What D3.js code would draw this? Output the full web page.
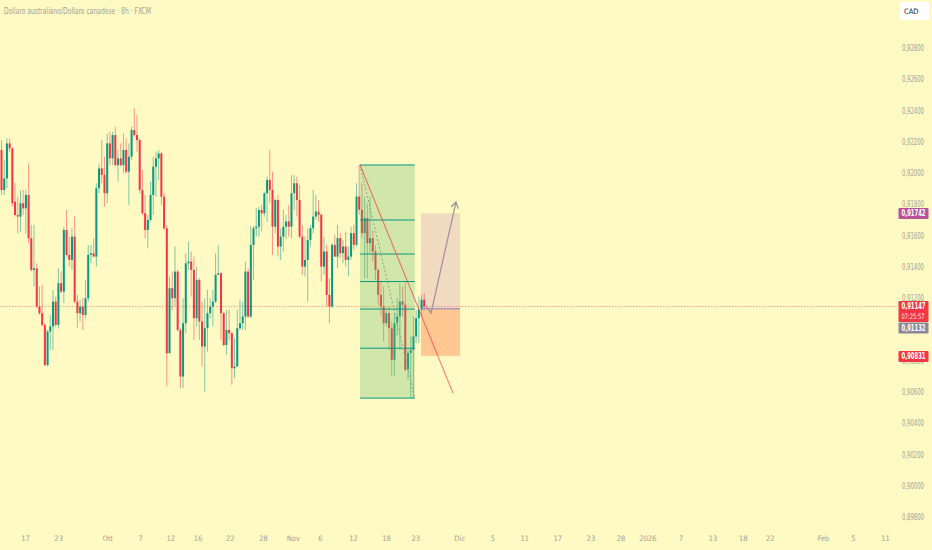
<!DOCTYPE html>
<html>
<head>
<meta charset="utf-8">
<script src="https://cdn.jsdelivr.net/npm/d3@7"></script>
<style>
  html, body { margin: 0; padding: 0; background: #fff9c4; }
  svg { display: block; }
  text { font-family: "Liberation Sans Narrow", "DejaVu Sans Condensed", "Liberation Sans", sans-serif; }
</style>
</head>
<body>
<svg id="chart"></svg>
<script>
const WIDTH = 932;
const HEIGHT = 550;

const TITLE = 'Dollaro australiano/Dollaro canadese · 8h · FXCM';

// 8h candles, [open, high, low, close]
const candles = [
  [0.92148,0.92211,0.91860,0.91892],[0.91892,0.92084,0.91860,0.91966],[0.91966,0.92222,0.91903,0.92190],
  [0.92190,0.92222,0.92137,0.92158],[0.92158,0.92165,0.91785,0.91807],[0.91817,0.91935,0.91722,0.91732],
  [0.91732,0.91849,0.91615,0.91722],[0.91722,0.91892,0.91625,0.91807],[0.91807,0.91892,0.91732,0.91775],
  [0.91775,0.91892,0.91615,0.91860],[0.91860,0.92062,0.91551,0.91583],[0.91583,0.91668,0.91370,0.91381],
  [0.91381,0.91668,0.91274,0.91391],[0.91391,0.91423,0.91136,0.91146],[0.91146,0.91274,0.91093,0.91104],
  [0.91104,0.91285,0.91019,0.91029],[0.91029,0.91040,0.90763,0.90773],[0.90773,0.90997,0.90763,0.90987],
  [0.90987,0.91093,0.90870,0.91019],[0.91019,0.91253,0.90870,0.91178],[0.91178,0.91210,0.91019,0.91029],
  [0.91029,0.91391,0.91008,0.91296],[0.91296,0.91370,0.91232,0.91242],[0.91242,0.91657,0.91168,0.91636],
  [0.91636,0.91764,0.91466,0.91477],[0.91477,0.91594,0.91402,0.91445],[0.91445,0.91647,0.91381,0.91594],
  [0.91594,0.91722,0.91168,0.91178],[0.91178,0.91221,0.91008,0.91104],[0.91104,0.91189,0.91051,0.91146],
  [0.91146,0.91200,0.90997,0.91093],[0.91093,0.91317,0.91072,0.91200],[0.91200,0.91540,0.91178,0.91477],
  [0.91477,0.91540,0.91423,0.91487],[0.91487,0.91583,0.91466,0.91466],[0.91466,0.91935,0.91402,0.91903],
  [0.91903,0.92062,0.91871,0.92030],[0.92030,0.92211,0.91935,0.91988],[0.91988,0.92105,0.91785,0.91871],
  [0.91871,0.92254,0.91807,0.92190],[0.92190,0.92264,0.92051,0.92094],[0.92094,0.92264,0.92051,0.92243],
  [0.92243,0.92296,0.92041,0.92051],[0.92051,0.92148,0.91946,0.92094],[0.92094,0.92190,0.92041,0.92051],
  [0.92051,0.92254,0.91998,0.92148],[0.92148,0.92222,0.91998,0.92009],[0.92009,0.92190,0.91796,0.92105],
  [0.92105,0.92296,0.92084,0.92275],[0.92275,0.92414,0.92232,0.92243],[0.92243,0.92371,0.92137,0.92211],
  [0.92211,0.92222,0.91871,0.91892],[0.91892,0.92020,0.91732,0.91743],[0.91743,0.91860,0.91583,0.91636],
  [0.91636,0.91732,0.91519,0.91700],[0.91700,0.91945,0.91690,0.91860],[0.91860,0.92105,0.91732,0.92041],
  [0.92041,0.92137,0.91849,0.92094],[0.92094,0.92148,0.91956,0.92126],[0.92126,0.92137,0.91796,0.91849],
  [0.91849,0.91870,0.91636,0.91647],[0.91647,0.91668,0.90635,0.90848],[0.90848,0.91338,0.90848,0.91264],
  [0.91264,0.91370,0.91125,0.91200],[0.91200,0.91530,0.91146,0.91370],[0.91370,0.91381,0.90987,0.90997],
  [0.90997,0.91008,0.90625,0.90699],[0.90699,0.91200,0.90625,0.91040],[0.91040,0.91487,0.90976,0.91423],
  [0.91423,0.91562,0.91381,0.91434],[0.91434,0.91498,0.91210,0.91381],[0.91381,0.91466,0.90933,0.91072],
  [0.91072,0.91402,0.91019,0.91317],[0.91317,0.91327,0.90933,0.91051],[0.91051,0.91178,0.90763,0.90891],
  [0.90891,0.91200,0.90603,0.91008],[0.91008,0.91253,0.90859,0.91104],[0.91104,0.91200,0.91072,0.91146],
  [0.91146,0.91253,0.91019,0.91178],[0.91178,0.91487,0.91168,0.91349],[0.91349,0.91540,0.91349,0.91359],
  [0.91359,0.91370,0.90933,0.91104],[0.91104,0.91114,0.90891,0.90901],[0.90901,0.91125,0.90838,0.90997],
  [0.90997,0.91125,0.90933,0.90976],[0.90976,0.90987,0.90646,0.90752],[0.90752,0.90944,0.90688,0.90763],
  [0.90763,0.91125,0.90763,0.91008],[0.91008,0.91189,0.90997,0.91040],[0.91040,0.91178,0.90997,0.91083],
  [0.91083,0.91434,0.90997,0.91370],[0.91370,0.91391,0.91072,0.91083],[0.91083,0.91660,0.91072,0.91540],
  [0.91540,0.91660,0.91317,0.91647],[0.91647,0.91775,0.91594,0.91657],[0.91657,0.91785,0.91594,0.91764],
  [0.91764,0.91796,0.91626,0.91743],[0.91743,0.91881,0.91722,0.91871],[0.91871,0.91977,0.91690,0.91956],
  [0.91956,0.92148,0.91807,0.91892],[0.91892,0.92009,0.91477,0.91657],[0.91657,0.91838,0.91615,0.91828],
  [0.91828,0.91860,0.91466,0.91530],[0.91530,0.91647,0.91445,0.91594],[0.91594,0.91764,0.91498,0.91657],
  [0.91657,0.91732,0.91577,0.91690],[0.91690,0.91796,0.91594,0.91657],[0.91657,0.91988,0.91583,0.91871],
  [0.91871,0.91988,0.91764,0.91935],[0.91935,0.91977,0.91722,0.91828],[0.91828,0.91924,0.91583,0.91594],
  [0.91594,0.91668,0.91349,0.91402],[0.91402,0.91594,0.91338,0.91445],[0.91445,0.91647,0.91178,0.91572],
  [0.91572,0.91668,0.91530,0.91647],[0.91647,0.91892,0.91615,0.91722],[0.91722,0.91860,0.91700,0.91754],
  [0.91754,0.91828,0.91690,0.91733],[0.91733,0.91743,0.91307,0.91402],[0.91402,0.91594,0.91349,0.91498],
  [0.91498,0.91541,0.91147,0.91221],[0.91221,0.91328,0.91040,0.91147],[0.91147,0.91552,0.91136,0.91541],
  [0.91541,0.91605,0.91466,0.91466],[0.91466,0.91669,0.91392,0.91584],[0.91584,0.91616,0.91456,0.91488],
  [0.91488,0.91573,0.91424,0.91530],[0.91530,0.91626,0.91402,0.91445],[0.91445,0.91530,0.91339,0.91466],
  [0.91466,0.91658,0.91445,0.91616],[0.91616,0.91669,0.91509,0.91541],[0.91541,0.91935,0.91530,0.91850],
  [0.91850,0.92052,0.91733,0.91765],[0.91765,0.91935,0.91584,0.91616],[0.91616,0.91850,0.91328,0.91712],
  [0.91712,0.91807,0.91328,0.91552],[0.91552,0.91850,0.91488,0.91584],[0.91584,0.91637,0.91434,0.91498],
  [0.91498,0.91541,0.91317,0.91381],[0.91381,0.91390,0.91158,0.91221],[0.91221,0.91307,0.91083,0.91147],
  [0.91147,0.91275,0.90923,0.91040],[0.91040,0.91126,0.91019,0.91104],[0.91104,0.91147,0.90870,0.91008],
  [0.91008,0.91051,0.90700,0.90806],[0.90806,0.91104,0.90700,0.91040],[0.91040,0.91200,0.90955,0.91083],
  [0.91083,0.91296,0.90870,0.91179],[0.91179,0.91275,0.91083,0.91158],[0.91158,0.91307,0.90732,0.90742],
  [0.90742,0.90870,0.90678,0.90850],[0.90850,0.90955,0.90561,0.90870],[0.90870,0.91083,0.90561,0.90955],
  [0.90955,0.91126,0.90913,0.91072],[0.91072,0.91211,0.90913,0.91126],[0.91126,0.91222,0.91083,0.91190],
  [0.91190,0.91232,0.91126,0.91147]
];

// time axis: label text and the bar index it sits on (future bars past the last candle)
const timeLabels = ['17','23','Ott','7','12','16','22','28','Nov','6','12','18','23','Dic',
  '5','11','17','23','28','2026','7','13','18','22','Feb','5','11'];
const timeIndex = [8.7,20.9,39,51.2,62.3,72.3,84.2,96.4,107.5,117.5,129.7,141.9,152.7,168.9,
  181.1,192.9,205.1,217.3,228.4,238.4,250.6,262.4,273.5,283.5,303.1,314.2,326];

const priceTicks = d3.range(0.898, 0.9281, 0.002);
const lastPrice = 0.91147;
const countdown = '07:25:57';

// fib retracement drawn from the swing high to the swing low
const fibStart = [132.3, 0.92052];
const fibEnd = [152.5, 0.90561];
const fibLevels = [0, 0.236, 0.382, 0.5, 0.618, 0.786, 1];

// down trend line
const trendLine = [[132.3, 0.92052], [166.6, 0.90593]];

// long position tool
const posStart = 154.8, posEnd = 169.2;
const posEntry = 0.91132, posTarget = 0.91742, posStop = 0.90831;

// projected path with arrow head
const projection = [[156.7, 0.91150], [158.5, 0.91105], [167.7, 0.91815]];

const UP = '#089981';
const DOWN = '#f23645';
const AXIS_TEXT = '#a3a294';

const fmt = v => v.toFixed(5).replace('.', ',');

function draw() {
    let svg = d3.select('#chart')
        .attr('width', WIDTH)
        .attr('height', HEIGHT);

    svg.append('rect')
        .attr('width', WIDTH)
        .attr('height', HEIGHT)
        .attr('fill', '#fff9c4');

    const step = 2.71;
    let x = d3.scaleLinear()
        .domain([0, 1])
        .range([1.5, 1.5 + step]);
    let y = d3.scaleLinear()
        .domain([0.898, 0.928])
        .range([517.1, 48]);

    let plot = svg.append('g').attr('class', 'plot');
    svg.append('clipPath').attr('id', 'plot-clip')
        .append('rect').attr('width', 898).attr('height', 528);
    plot.attr('clip-path', 'url(#plot-clip)');

    // last price dotted line
    plot.append('line')
        .attr('x1', 0).attr('x2', 898)
        .attr('y1', y(lastPrice)).attr('y2', y(lastPrice))
        .attr('stroke', DOWN)
        .attr('stroke-opacity', 0.55)
        .attr('stroke-width', 0.8)
        .attr('stroke-dasharray', '1.5,1.5');

    // candles
    let bar = plot.selectAll('.candle')
        .data(candles)
        .enter().append('g')
        .attr('class', 'candle');

    bar.append('line')
        .attr('x1', (d, i) => x(i)).attr('x2', (d, i) => x(i))
        .attr('y1', d => y(d[1])).attr('y2', d => y(d[2]))
        .attr('stroke', d => d[3] >= d[0] ? UP : DOWN)
        .attr('stroke-opacity', 0.5)
        .attr('stroke-width', 1);

    bar.append('rect')
        .attr('x', (d, i) => x(i) - 1)
        .attr('width', 2)
        .attr('y', d => y(Math.max(d[0], d[3])))
        .attr('height', d => Math.max(0.8, Math.abs(y(d[0]) - y(d[3]))))
        .attr('fill', d => d[3] >= d[0] ? UP : DOWN);

    // fib retracement
    let fx1 = x(fibStart[0]), fx2 = x(fibEnd[0]);
    let fy = lv => y(fibStart[1] + (fibEnd[1] - fibStart[1]) * lv);
    plot.append('rect')
        .attr('x', fx1).attr('width', fx2 - fx1)
        .attr('y', fy(0)).attr('height', fy(1) - fy(0))
        .attr('fill', 'rgba(102,187,106,0.3)');
    plot.selectAll('.fib-level')
        .data(fibLevels)
        .enter().append('line')
        .attr('class', 'fib-level')
        .attr('x1', fx1).attr('x2', fx2)
        .attr('y1', fy).attr('y2', fy)
        .attr('stroke', UP)
        .attr('stroke-width', 1);
    plot.append('line')
        .attr('x1', fx1).attr('y1', fy(0))
        .attr('x2', fx2).attr('y2', fy(1))
        .attr('stroke', '#8f948c')
        .attr('stroke-width', 0.9)
        .attr('stroke-dasharray', '2,2');

    // long position
    let px1 = x(posStart), px2 = x(posEnd);
    plot.append('rect')
        .attr('x', px1).attr('width', px2 - px1)
        .attr('y', y(posTarget)).attr('height', y(posEntry) - y(posTarget))
        .attr('fill', 'rgba(156,39,176,0.15)');
    plot.append('rect')
        .attr('x', px1).attr('width', px2 - px1)
        .attr('y', y(posEntry)).attr('height', y(posStop) - y(posEntry))
        .attr('fill', 'rgba(255,87,34,0.3)');
    plot.append('line')
        .attr('x1', px1).attr('x2', px2)
        .attr('y1', y(posEntry)).attr('y2', y(posEntry))
        .attr('stroke', '#8e7cc3')
        .attr('stroke-width', 1);

    // trend line
    plot.append('line')
        .attr('x1', x(trendLine[0][0])).attr('y1', y(trendLine[0][1]))
        .attr('x2', x(trendLine[1][0])).attr('y2', y(trendLine[1][1]))
        .attr('stroke', DOWN)
        .attr('stroke-opacity', 0.65)
        .attr('stroke-width', 1.1);

    // projection arrow
    let path = d3.line().x(d => x(d[0])).y(d => y(d[1]));
    plot.append('path')
        .attr('d', path(projection))
        .attr('fill', 'none')
        .attr('stroke', '#a3939f')
        .attr('stroke-width', 1.3);
    let tip = projection[projection.length - 1];
    let prev = projection[projection.length - 2];
    let ang = Math.atan2(y(tip[1]) - y(prev[1]), x(tip[0]) - x(prev[0]));
    let tx = x(tip[0]), ty = y(tip[1]), L = 7;
    plot.append('path')
        .attr('d', `M${tx + L * Math.cos(ang + Math.PI - 0.55)},${ty + L * Math.sin(ang + Math.PI - 0.55)}` +
            `L${tx},${ty}L${tx + L * Math.cos(ang + Math.PI + 0.55)},${ty + L * Math.sin(ang + Math.PI + 0.55)}`)
        .attr('fill', 'none')
        .attr('stroke', '#a3939f')
        .attr('stroke-width', 1.3);

    // price axis
    let yAxis = d3.axisRight(y)
        .tickValues(priceTicks)
        .tickSize(0)
        .tickPadding(0)
        .tickFormat(fmt);
    let ya = svg.append('g')
        .attr('class', 'axis')
        .attr('transform', 'translate(902,0)')
        .call(yAxis);
    ya.select('.domain').remove();
    ya.selectAll('text')
        .attr('fill', AXIS_TEXT)
        .attr('textLength', 22)
        .attr('lengthAdjust', 'spacingAndGlyphs')
        .style('font-size', '8px');

    // time axis
    let xAxis = d3.axisBottom(x)
        .tickValues(timeIndex)
        .tickSize(0)
        .tickPadding(0)
        .tickFormat((d, i) => timeLabels[i]);
    let xa = svg.append('g')
        .attr('class', 'axis')
        .attr('transform', 'translate(0,536)')
        .call(xAxis);
    xa.select('.domain').remove();
    xa.selectAll('text')
        .attr('fill', AXIS_TEXT)
        .style('font-size', '7.5px');

    // price labels on the axis
    function priceTag(top, h, fill, lines) {
        let g = svg.append('g');
        g.append('rect')
            .attr('x', 898.5).attr('y', top)
            .attr('width', 30).attr('height', h)
            .attr('rx', 1)
            .attr('fill', fill);
        lines.forEach((t, i) => {
            g.append('text')
                .attr('x', 901.5)
                .attr('y', top + 8.3 + i * 10)
                .attr('fill', i === 0 ? '#fff' : '#ffe5e8')
                .attr('textLength', i === 0 ? 24 : 23)
                .attr('lengthAdjust', 'spacingAndGlyphs')
                .style('font-size', i === 0 ? '8px' : '7.5px')
                .style('font-weight', i === 0 ? 'bold' : 'normal')
                .text(t);
        });
    }
    priceTag(y(posTarget) - 5.5, 11, '#b9529c', [fmt(posTarget)]);
    priceTag(y(lastPrice) - 5.5, 21, DOWN, [fmt(lastPrice), countdown]);
    priceTag(y(lastPrice) + 16, 11, '#8d8799', [fmt(posEntry)]);
    priceTag(y(posStop) - 5, 11, DOWN, [fmt(posStop)]);

    // currency button
    svg.append('rect')
        .attr('x', 900).attr('y', 2)
        .attr('width', 29).attr('height', 18)
        .attr('rx', 2)
        .attr('fill', '#ffffff');
    svg.append('text')
        .attr('x', 904).attr('y', 14)
        .attr('fill', '#131722')
        .style('font-size', '7.5px')
        .text('CAD');

    // title
    svg.append('text')
        .attr('x', 4).attr('y', 14)
        .attr('fill', '#a3a294')
        .attr('textLength', 147)
        .attr('lengthAdjust', 'spacingAndGlyphs')
        .style('font-size', '9px')
        .text(TITLE);
}

window.onload = draw;
</script>
</body>
</html>
